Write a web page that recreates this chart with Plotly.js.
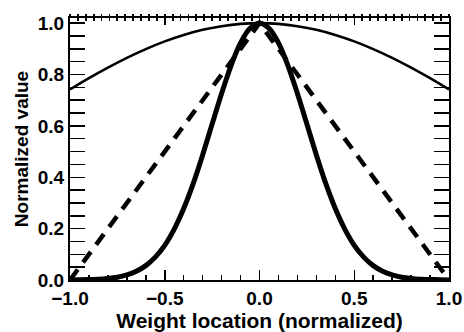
<!DOCTYPE html>
<html>
<head>
<meta charset="utf-8">
<script src="https://cdn.plot.ly/plotly-3.0.1.min.js"></script>
<style>html,body{margin:0;padding:0;background:#fff;}#chart{width:464px;height:332px;}</style>
</head>
<body>
<div id="chart"></div>
<script>
// Broad (thin solid) curve
const xBroad = [-1.0,-0.9,-0.8,-0.7,-0.6,-0.5,-0.4,-0.3,-0.2,-0.1,0.0,0.1,0.2,0.3,0.4,0.5,0.6,0.7,0.8,0.9,1.0];
const yBroad = [0.742,0.786,0.827,0.865,0.899,0.929,0.954,0.974,0.988,0.997,1.0,0.997,0.988,0.974,0.954,0.929,0.899,0.865,0.827,0.786,0.742];
// Triangle (thick dashed) curve
const xTri = [-1.0, 0.0, 1.0];
const yTri = [0.0, 1.0, 0.0];
// Narrow (thick solid) curve
const xNarrow = [-1.0,-0.95,-0.9,-0.85,-0.8,-0.75,-0.7,-0.65,-0.6,-0.55,-0.5,-0.45,-0.4,-0.35,-0.3,-0.25,-0.2,-0.15,-0.1,-0.05,0.0,0.05,0.1,0.15,0.2,0.25,0.3,0.35,0.4,0.45,0.5,0.55,0.6,0.65,0.7,0.75,0.8,0.85,0.9,0.95,1.0];
const yNarrow = [0.000,0.001,0.002,0.003,0.006,0.011,0.020,0.034,0.056,0.089,0.135,0.198,0.278,0.375,0.487,0.607,0.726,0.835,0.923,0.980,1.0,0.980,0.923,0.835,0.726,0.607,0.487,0.375,0.278,0.198,0.135,0.089,0.056,0.034,0.020,0.011,0.006,0.003,0.002,0.001,0.000];
const xTickVals = [-1.0,-0.5,0.0,0.5,1.0];
const xTickText = ['−1.0','−0.5','0.0','0.5','1.0'];
const yTickVals = [0.0,0.2,0.4,0.6,0.8,1.0];
const yTickText = ['0.0','0.2','0.4','0.6','0.8','1.0'];

const FONT = 'Liberation Sans, Arial, sans-serif';
const traces = [
  {x: xBroad, y: yBroad, mode: 'lines', line: {color: '#000', width: 2.6, shape: 'spline'}, hoverinfo: 'skip'},
  {x: xTri, y: yTri, mode: 'lines', line: {color: '#000', width: 4.5, dash: '13px,9px'}, hoverinfo: 'skip'},
  {x: xNarrow, y: yNarrow, mode: 'lines', line: {color: '#000', width: 5, shape: 'spline'}, hoverinfo: 'skip'},
  {x: [null], y: [null], xaxis: 'x2', mode: 'lines', hoverinfo: 'skip'},
  {x: [null], y: [null], xaxis: 'x3', mode: 'lines', hoverinfo: 'skip'}
];
const layout = {
  width: 464, height: 332,
  margin: {l: 70, r: 15, t: 18, b: 52},
  paper_bgcolor: '#fff', plot_bgcolor: '#fff',
  showlegend: false,
  font: {family: FONT, color: '#000'},
  xaxis: {
    range: [-1, 1], showgrid: false, zeroline: false, automargin: false,
    showline: true, linecolor: '#000', linewidth: 2, mirror: true,
    ticks: 'inside', tickvals: xTickVals, ticktext: xTickText, ticklen: 10, tickwidth: 1.5, tickcolor: '#000',
    minor: {ticks: 'inside', dtick: 0.1, tick0: -1, ticklen: 5, tickwidth: 1.5, tickcolor: '#000'},
    tickfont: {family: FONT, size: 19, weight: 700},
    title: {text: 'Weight location (normalized)', font: {family: FONT, size: 21, weight: 700}, standoff: 2}
  },
  xaxis2: {
    overlaying: 'x', side: 'top', anchor: 'y', range: [-1, 1],
    showgrid: false, zeroline: false, showline: false, showticklabels: false,
    ticks: 'inside', tick0: -1, dtick: 0.5, ticklen: 7, tickwidth: 1.5, tickcolor: '#000',
    minor: {ticks: 'inside', tick0: -1, dtick: 1/24, ticklen: 3, tickwidth: 1.8, tickcolor: '#000'}
  },
  xaxis3: {
    overlaying: 'x', side: 'top', anchor: 'y', range: [-1, 1],
    showgrid: false, zeroline: false, showline: false, showticklabels: false,
    ticks: 'outside', tick0: -1, dtick: 1/24, ticklen: 3, tickwidth: 1.8, tickcolor: '#000'
  },
  yaxis: {
    range: [0, 1.02], showgrid: false, zeroline: false, automargin: false,
    showline: true, linecolor: '#000', linewidth: 2, mirror: 'allticks',
    ticks: 'inside', tickvals: yTickVals, ticktext: yTickText, ticklen: 15, tickwidth: 1.5, tickcolor: '#000',
    minor: {ticks: 'inside', dtick: 0.05, tick0: 0, ticklen: 7, tickwidth: 1.5, tickcolor: '#000'},
    tickfont: {family: FONT, size: 19, weight: 700},
    title: {text: 'Normalized value', font: {family: FONT, size: 19, weight: 700}, standoff: 4}
  }
};
Plotly.newPlot('chart', traces, layout, {staticPlot: true, displayModeBar: false});
</script>
</body>
</html>
